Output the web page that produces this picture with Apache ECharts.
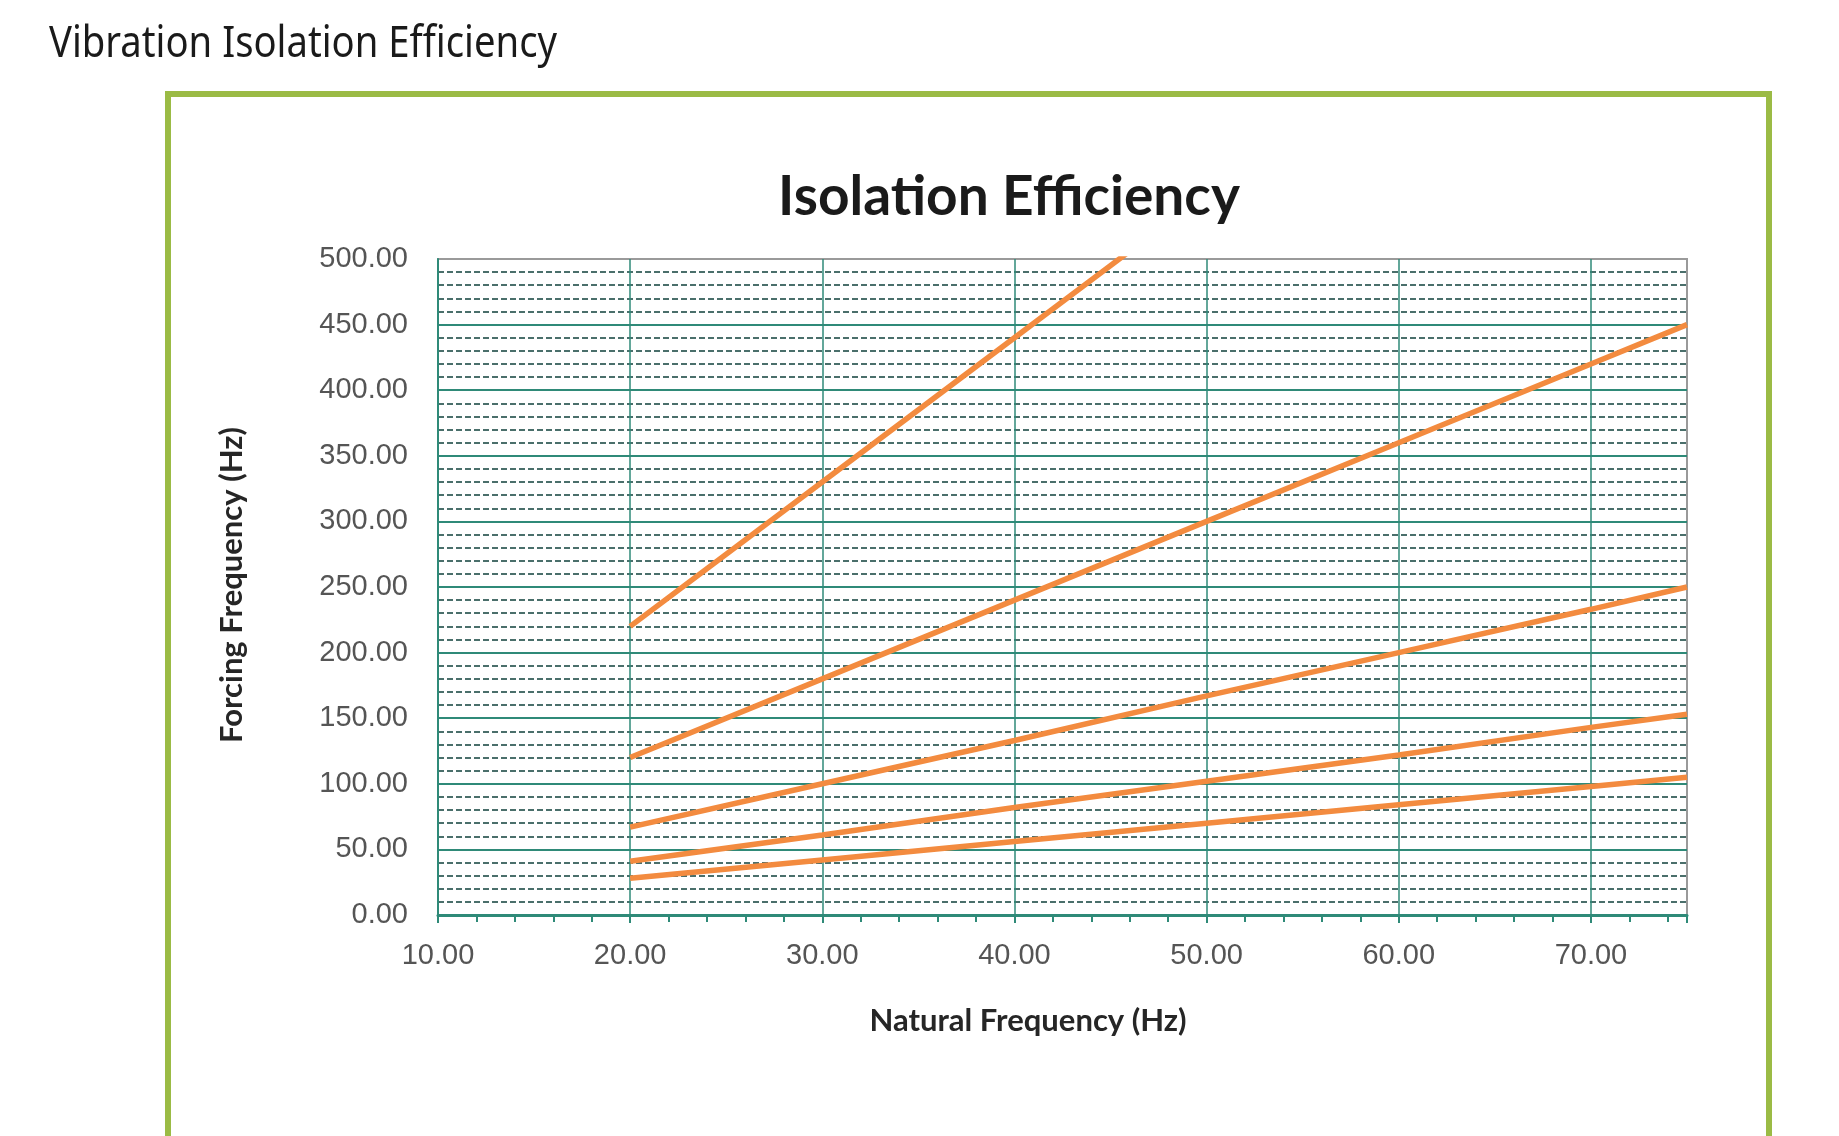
<!DOCTYPE html>
<html>
<head>
<meta charset="utf-8">
<style>
html,body{margin:0;padding:0;background:#fff;}
#chart{width:1839px;height:1136px;}
</style>
<script src="https://cdn.jsdelivr.net/npm/echarts@6/dist/echarts.min.js"></script>
</head>
<body>
<div id="chart"></div>
<script>
// ---- data ----
var pageTitle = 'Vibration Isolation Efficiency';
var chartTitle = 'Isolation Efficiency';
var xAxisTitle = 'Natural Frequency (Hz)';
var yAxisTitle = 'Forcing Frequency (Hz)';
var naturalFreq = [20, 30, 40, 50, 60, 70, 75];
var line1 = [220, 330, 440, 550, 660, 770, 825];
var line2 = [120, 180, 240, 300, 360, 420, 450];
var line3 = [67, 100, 133, 167, 200, 233, 250];
var line4 = [41, 61, 82, 102, 122, 143, 153];
var line5 = [28, 42, 56, 70, 84, 98, 105];
var allLines = [line1, line2, line3, line4, line5];

function measure(text, font) {
  var c = document.createElement('canvas').getContext('2d');
  c.font = font;
  return c.measureText(text).width;
}
var pageTitleFont = '43px "Noto Sans"';
var pageTitleScale = 508 / measure(pageTitle, pageTitleFont);

var teal = '#2f8a78';
var orange = '#f38b3f';

var chart = echarts.init(document.getElementById('chart'));
chart.setOption({
  animation: false,
  backgroundColor: '#ffffff',
  grid: {left: 438, top: 259, right: 152, bottom: 221, show: true, borderColor: '#9a9a9a', borderWidth: 2, backgroundColor: 'transparent'},
  xAxis: {
    type: 'value', min: 10, max: 75, interval: 10,
    axisLine: {show: true, onZero: false, lineStyle: {color: teal, width: 3}},
    axisTick: {show: true, length: 8, lineStyle: {color: teal, width: 2}},
    minorTick: {show: true, splitNumber: 5, length: 7, lineStyle: {color: teal, width: 2}},
    axisLabel: {showMaxLabel: false, margin: 26, color: '#555555', fontFamily: 'Liberation Sans', fontSize: 29,
      formatter: function (v) { return v.toFixed(2); }},
    splitLine: {show: true, showMinLine: false, showMaxLine: false, lineStyle: {color: teal, width: 1.5}}
  },
  yAxis: {
    type: 'value', min: 0, max: 500, interval: 50,
    axisLine: {show: true, lineStyle: {color: teal, width: 2}},
    axisTick: {show: false},
    minorTick: {show: false, splitNumber: 5},
    minorSplitLine: {show: true, lineStyle: {color: '#4a6f6b', width: 1.8, type: [6, 3]}},
    axisLabel: {margin: 30, color: '#555555', fontFamily: 'Liberation Sans', fontSize: 29,
      formatter: function (v) { return v.toFixed(2); }},
    splitLine: {show: true, showMinLine: false, showMaxLine: false, lineStyle: {color: teal, width: 2}}
  },
  series: allLines.map(function (arr) {
    return {
      type: 'line', symbol: 'none', clip: true,
      data: naturalFreq.map(function (x, i) { return [x, arr[i]]; }),
      lineStyle: {color: orange, width: 5.5}
    };
  }),
  graphic: [
    {type: 'text', x: 49, y: 45, scaleX: pageTitleScale,
      style: {text: pageTitle, font: pageTitleFont, fill: '#1a1a1a', align: 'left', verticalAlign: 'middle'}},
    {type: 'rect', shape: {x: 168, y: 94, width: 1601, height: 1045}, silent: true,
      style: {fill: 'none', stroke: '#9bbb45', lineWidth: 6}},
    {type: 'text', x: 1009, y: 197,
      style: {text: chartTitle, font: 'bold 55px Lato', fill: '#1a1a1a', align: 'center', verticalAlign: 'middle'}},
    {type: 'text', x: 1028, y: 1021,
      style: {text: xAxisTitle, font: 'bold 31px Lato', fill: '#262626', align: 'center', verticalAlign: 'middle'}},
    {type: 'text', x: 232, y: 585, rotation: Math.PI / 2,
      style: {text: yAxisTitle, font: 'bold 31px Lato', fill: '#262626', align: 'center', verticalAlign: 'middle'}}
  ]
});
</script>
</body>
</html>
